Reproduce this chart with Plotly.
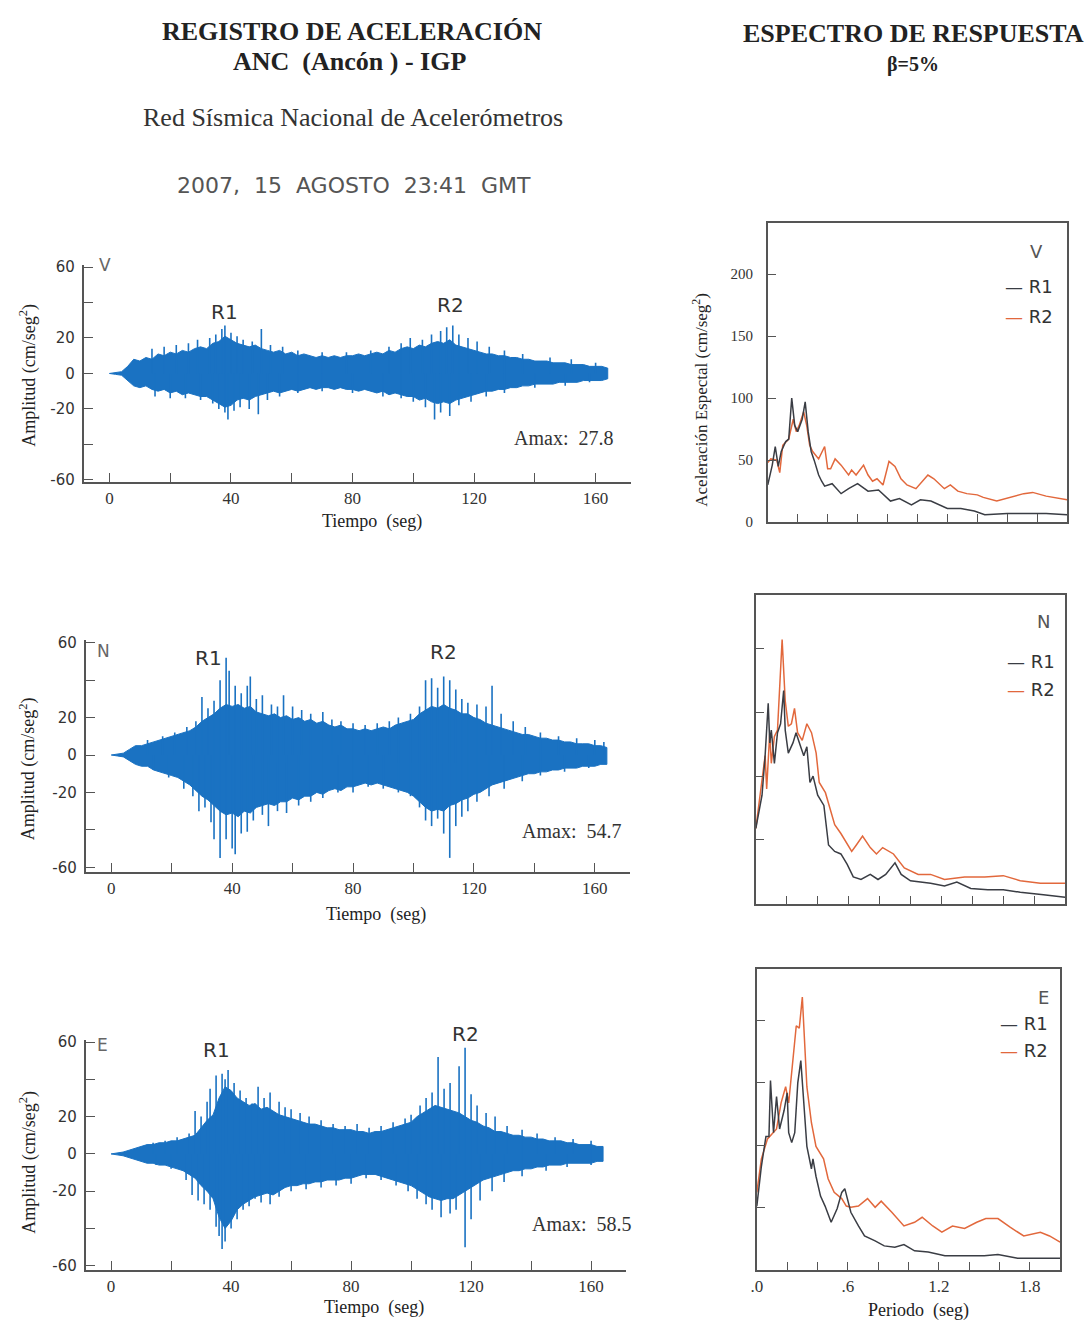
import plotly.graph_objects as go

W, H = 1092, 1331
OFF = 8                      # default page margin around the figure
FW, FH = W - 2 * OFF, H - 2 * OFF

# ---------------- acceleration records (cm/seg2) ----------------
# solid core of each trace, sampled every 2 s
t_env = list(range(0, 166, 2))

v_up = [0, 0.5, 1, 4, 8, 7, 9, 8, 11, 10,
        12, 11, 13, 12, 14, 15, 14, 17, 18, 21,
        19, 17, 16, 15, 16, 14, 13, 12, 13, 11,
        12, 10, 11, 10, 9, 10, 9, 10, 9, 10,
        10, 11, 10, 11, 12, 11, 13, 12, 14, 15,
        14, 16, 15, 17, 18, 17, 19, 16, 15, 14,
        13, 12, 11, 11, 10, 10, 9, 9, 8, 8,
        7, 7, 7, 6, 6, 6, 5, 5, 5, 4,
        4, 4, 3]
v_lo = [0, -0.5, -1, -4, -7, -8, -7, -9, -10, -9,
        -11, -10, -12, -11, -12, -13, -13, -15, -17, -19,
        -18, -15, -14, -15, -13, -12, -11, -10, -11, -10,
        -9, -10, -9, -8, -9, -8, -8, -9, -8, -9,
        -9, -10, -9, -10, -11, -10, -12, -11, -12, -13,
        -13, -15, -14, -16, -17, -16, -17, -15, -14, -13,
        -12, -11, -10, -10, -9, -9, -8, -8, -7, -7,
        -6, -6, -6, -6, -5, -5, -5, -5, -4, -4,
        -4, -4, -3]
n_up = [0, 0.5, 1, 3, 5, 5, 6, 7, 8, 9,
        10, 11, 12, 13, 15, 18, 20, 22, 25, 27,
        26, 27, 25, 26, 23, 22, 21, 22, 20, 21,
        19, 20, 18, 19, 17, 18, 16, 15, 16, 14,
        14, 13, 14, 13, 14, 15, 14, 16, 17, 18,
        19, 22, 24, 26, 25, 27, 25, 24, 22, 22,
        20, 19, 17, 16, 15, 14, 13, 12, 11, 11,
        10, 9, 9, 8, 8, 7, 7, 6, 6, 6,
        5, 5, 4]
n_lo = [0, -0.5, -1, -3, -5, -6, -6, -8, -9, -10,
        -11, -12, -14, -16, -19, -22, -24, -27, -30, -32,
        -31, -33, -30, -31, -28, -27, -26, -27, -25, -25,
        -23, -24, -22, -22, -20, -21, -19, -18, -19, -17,
        -17, -16, -15, -16, -15, -16, -17, -18, -19, -20,
        -22, -25, -28, -30, -29, -30, -27, -26, -24, -23,
        -21, -20, -18, -16, -15, -14, -13, -12, -11, -10,
        -10, -9, -9, -8, -8, -7, -7, -7, -6, -6,
        -6, -5, -5]
e_up = [0, 0.5, 1, 2, 3, 4, 5, 5, 6, 6,
        7, 7, 8, 9, 10, 14, 18, 21, 30, 36,
        34, 30, 28, 26, 27, 24, 25, 23, 21, 20,
        19, 18, 17, 16, 16, 15, 14, 14, 13, 13,
        13, 12, 12, 11, 12, 12, 13, 14, 15, 16,
        17, 20, 22, 24, 26, 25, 24, 23, 22, 20,
        18, 17, 15, 14, 12, 12, 11, 10, 10, 9,
        9, 8, 8, 7, 7, 7, 6, 6, 5, 5,
        5, 4, 4]
e_lo = [0, -0.5, -1, -2, -3, -4, -5, -5, -6, -6,
        -7, -8, -9, -11, -13, -17, -20, -24, -34, -40,
        -36, -30, -27, -25, -23, -22, -21, -22, -20, -18,
        -17, -17, -16, -16, -15, -15, -14, -14, -14, -13,
        -13, -12, -11, -11, -11, -12, -13, -14, -15, -16,
        -17, -19, -21, -23, -24, -25, -24, -24, -22, -20,
        -18, -16, -14, -13, -12, -11, -10, -9, -9, -8,
        -8, -7, -7, -6, -6, -6, -5, -5, -5, -5,
        -5, -4, -4]

# individual spikes sticking out of the core (time s, amplitude)
v_peak_t = [14, 18, 22, 26, 29, 33, 35, 37, 38, 40, 42, 44, 47, 50, 53, 57, 62, 70, 78, 86,
            92, 96, 99, 103, 106, 109, 111, 113, 115, 118, 121, 125, 130, 136, 145, 152, 160]
v_peak_a = [14, 15, 16, 17, 19, 20, 22, 25, 27, 23, 21, 19, 18, 25, 16, 15, 13, 12, 12, 13,
            15, 17, 20, 19, 22, 24, 26, 27, 22, 20, 18, 15, 13, 11, 9, 8, 6]
v_trough_t = [15, 20, 25, 30, 34, 36, 38, 39, 41, 43, 46, 49, 52, 56, 62, 70, 80, 90, 96, 100,
              104, 107, 109, 112, 115, 119, 124, 130, 140, 150, 158]
v_trough_a = [-13, -14, -14, -15, -17, -20, -22, -26, -21, -19, -20, -23, -15, -13, -11, -10, -11, -13, -14, -16,
              -19, -26, -22, -24, -18, -16, -13, -11, -8, -7, -5]

n_peak_t = [12, 17, 21, 25, 28, 30, 32, 34, 36, 38, 39, 41, 43, 45, 46, 48, 50, 53, 55, 57,
            60, 63, 66, 70, 73, 76, 80, 84, 88, 92, 95, 99, 102, 104, 106, 108, 110, 112, 114, 116,
            118, 121, 124, 126, 129, 133, 137, 142, 148, 154, 160, 163]
n_peak_a = [8, 10, 12, 15, 18, 31, 25, 29, 40, 52, 45, 37, 33, 37, 42, 30, 32, 27, 26, 32,
            26, 24, 22, 23, 19, 18, 17, 16, 17, 18, 20, 22, 26, 40, 41, 36, 42, 40, 35, 30,
            28, 27, 26, 37, 22, 18, 15, 12, 10, 9, 8, 7]
n_trough_t = [14, 19, 24, 27, 29, 31, 33, 34, 36, 38, 40, 41, 43, 45, 47, 50, 52, 55, 58, 62,
              66, 70, 75, 80, 85, 90, 95, 99, 102, 104, 106, 108, 110, 112, 114, 116, 118, 121, 125, 130,
              136, 142, 150, 158]
n_trough_a = [-8, -12, -18, -22, -30, -28, -36, -45, -55, -45, -50, -53, -42, -41, -35, -32, -38, -30, -31, -27,
              -25, -23, -20, -20, -17, -18, -20, -22, -28, -35, -38, -34, -42, -55, -38, -33, -30, -25, -22, -18,
              -14, -11, -9, -7]

e_peak_t = [14, 18, 22, 26, 28, 30, 32, 33, 35, 37, 38, 39, 41, 43, 45, 47, 49, 51, 53, 56,
            58, 60, 63, 66, 70, 74, 78, 82, 86, 90, 94, 98, 100, 103, 105, 107, 109, 111, 113, 116,
            118, 120, 122, 125, 128, 132, 137, 142, 148, 154, 160]
e_peak_a = [6, 7, 9, 11, 23, 20, 28, 35, 42, 43, 40, 45, 38, 34, 30, 27, 36, 30, 33, 28,
            25, 24, 22, 20, 18, 16, 15, 16, 14, 15, 17, 19, 21, 26, 30, 33, 52, 35, 38, 47,
            57, 32, 26, 22, 20, 15, 13, 11, 9, 8, 7]
e_trough_t = [15, 20, 25, 27, 29, 31, 33, 35, 36, 37, 38, 40, 42, 44, 46, 48, 50, 53, 56, 60,
              65, 70, 75, 80, 85, 90, 95, 99, 102, 105, 107, 110, 113, 115, 118, 120, 123, 127, 131, 137,
              145, 152, 160]
e_trough_a = [-6, -8, -14, -22, -25, -27, -30, -39, -44, -51, -47, -40, -35, -30, -28, -24, -26, -27, -23, -20,
              -19, -18, -17, -16, -13, -14, -17, -20, -24, -27, -30, -34, -32, -30, -50, -35, -25, -20, -15, -12,
              -9, -7, -6]

amax = [27.8, 54.7, 58.5]
components = ["V", "N", "E"]

# ---------------- response spectra, beta = 5% (period s, cm/seg2) ----------------
v_r1_T = [0, 0.03, 0.05, 0.07, 0.09, 0.12, 0.14, 0.16, 0.18, 0.20, 0.23, 0.25, 0.27, 0.29, 0.31, 0.34,
          0.36, 0.38, 0.43, 0.49, 0.54, 0.60, 0.67, 0.74, 0.82, 0.88, 0.96, 1.02, 1.09, 1.20, 1.29,
          1.38, 1.45, 1.60, 1.73, 1.86, 2.0]
v_r1_A = [30, 46, 61, 45, 57, 65, 67, 100, 78, 73, 83, 97, 73, 57, 50, 38,
          33, 29, 31, 23, 27, 31, 25, 26, 17, 19, 14, 18, 17, 11, 11,
          9, 6, 7, 7, 7, 6]
v_r2_T = [0, 0.02, 0.06, 0.08, 0.10, 0.14, 0.17, 0.19, 0.21, 0.24, 0.26, 0.28, 0.30, 0.34, 0.38, 0.40,
          0.42, 0.45, 0.49, 0.54, 0.56, 0.59, 0.64, 0.67, 0.70, 0.73, 0.77, 0.81, 0.85, 0.89, 0.93,
          0.99, 1.07, 1.11, 1.18, 1.22, 1.27, 1.33, 1.40, 1.44, 1.53, 1.62, 1.71, 1.77, 1.86, 2.0]
v_r2_A = [48, 51, 50, 40, 62, 67, 83, 73, 78, 89, 78, 62, 57, 51, 61, 43,
          43, 51, 46, 38, 42, 38, 46, 38, 33, 35, 30, 49, 45, 35, 30,
          27, 38, 35, 27, 30, 25, 23, 22, 20, 17, 20, 23, 24, 21, 18]

n_r1_T = [0, 0.04, 0.06, 0.08, 0.09, 0.10, 0.12, 0.14, 0.16, 0.18, 0.19, 0.21, 0.24, 0.26, 0.29, 0.31,
          0.33, 0.35, 0.37, 0.40, 0.44, 0.47, 0.51, 0.55, 0.59, 0.63, 0.68, 0.74, 0.79, 0.84, 0.90,
          0.94, 1.00, 1.07, 1.13, 1.22, 1.30, 1.39, 1.50, 1.60, 1.71, 1.86, 2.0]
n_r1_A = [59, 85, 116, 157, 126, 136, 110, 134, 141, 167, 136, 118, 126, 134, 123, 116,
          123, 95, 100, 85, 77, 46, 41, 39, 31, 21, 19, 23, 19, 23, 32,
          23, 18, 17, 16, 14, 17, 12, 11, 11, 9, 7, 5]
n_r2_T = [0, 0.03, 0.06, 0.07, 0.09, 0.10, 0.12, 0.14, 0.17, 0.19, 0.21, 0.23, 0.25, 0.27, 0.30, 0.33,
          0.36, 0.39, 0.41, 0.45, 0.48, 0.51, 0.55, 0.62, 0.65, 0.69, 0.74, 0.78, 0.82, 0.89, 0.96,
          1.05, 1.13, 1.22, 1.35, 1.48, 1.60, 1.71, 1.84, 2.0]
n_r2_A = [59, 90, 116, 90, 134, 110, 131, 136, 207, 159, 139, 141, 153, 134, 128, 141,
          134, 118, 95, 87, 75, 62, 55, 41, 46, 53, 44, 39, 44, 39, 28,
          23, 23, 19, 21, 21, 22, 18, 16, 16]

e_r1_T = [0, 0.03, 0.06, 0.08, 0.09, 0.11, 0.13, 0.15, 0.18, 0.20, 0.21, 0.23, 0.25, 0.27, 0.29, 0.31,
          0.33, 0.36, 0.37, 0.39, 0.42, 0.45, 0.49, 0.53, 0.56, 0.58, 0.62, 0.67, 0.71, 0.78, 0.84,
          0.91, 0.97, 1.04, 1.13, 1.24, 1.37, 1.50, 1.59, 1.72, 1.85, 2.0]
e_r1_A = [51, 83, 107, 107, 152, 110, 139, 113, 128, 142, 110, 102, 110, 150, 168, 136,
          99, 81, 89, 75, 59, 51, 38, 49, 62, 65, 46, 35, 27, 23, 19,
          18, 20, 15, 14, 11, 11, 11, 12, 9, 9, 9]
e_r2_T = [0, 0.03, 0.07, 0.10, 0.13, 0.16, 0.19, 0.21, 0.24, 0.26, 0.28, 0.30, 0.31, 0.33, 0.36, 0.39,
          0.44, 0.47, 0.51, 0.56, 0.59, 0.62, 0.67, 0.73, 0.78, 0.82, 0.89, 0.97, 1.04, 1.09, 1.16,
          1.22, 1.29, 1.37, 1.45, 1.51, 1.59, 1.67, 1.76, 1.87, 1.93, 2.0]
e_r2_A = [62, 89, 105, 109, 113, 134, 147, 134, 168, 196, 194, 219, 195, 147, 118, 99,
          89, 73, 62, 57, 51, 50, 51, 57, 50, 55, 46, 35, 38, 42, 35,
          30, 35, 33, 38, 41, 41, 34, 27, 30, 27, 22]

period_ticks = [0, 0.2, 0.4, 0.6, 0.8, 1.0, 1.2, 1.4, 1.6, 1.8, 2.0]
period_text = [".0", "", "", ".6", "", "", "1.2", "", "", "1.8", ""]
amp_ticks = [-60, -40, -20, 0, 20, 40, 60]
amp_text = ["-60", "", "-20", "0", "20", "", "60"]
time_ticks = [0, 20, 40, 60, 80, 100, 120, 140, 160]
time_text = ["0", "", "40", "", "80", "", "120", "", "160"]

# ---------------- styling ----------------
BLUE = "#1a72c2"
C_R1 = "#3a3d44"
C_R2 = "#e2683c"
AX = "#555555"
SERIF = "Liberation Serif"
SANS = "DejaVu Sans"


# page pixel -> paper coordinate
def px(x):
    return (x - OFF) / FW


def py(y):
    return 1 - (y - OFF) / FH


records = [
    (v_up, v_lo, v_peak_t, v_peak_a, v_trough_t, v_trough_a),
    (n_up, n_lo, n_peak_t, n_peak_a, n_trough_t, n_trough_a),
    (e_up, e_lo, e_peak_t, e_peak_a, e_trough_t, e_trough_a),
]
spectra = [
    (v_r1_T, v_r1_A, v_r2_T, v_r2_A),
    (n_r1_T, n_r1_A, n_r2_T, n_r2_A),
    (e_r1_T, e_r1_A, e_r2_T, e_r2_A),
]

# pixel boxes: (x0, x1, y0, y1) and y-range
rec_box = [(78, 628, 261, 480, [-61, 61.1]),
           (80, 627, 640, 875, [-62.6, 61.6]),
           (80, 623, 1045, 1277, [-62, 61])]
spec_box = [(766, 1067, 218, 521),
            (754, 1065, 595, 907),
            (755, 1060, 973, 1277)]

fig = go.Figure()
layout_axes = {}

for i, (up, lo, pk_t, pk_a, tr_t, tr_a) in enumerate(records):
    n = i + 1
    xa, ya = ("x", "y") if n == 1 else (f"x{n}", f"y{n}")
    # solid body of the record
    fig.add_trace(go.Scatter(
        x=t_env + t_env[::-1], y=up + lo[::-1], fill="toself", fillcolor=BLUE,
        mode="lines", line=dict(color=BLUE, width=1), xaxis=xa, yaxis=ya,
        showlegend=False, hoverinfo="skip"))
    # spikes
    xs, ys = [], []
    for t, a in list(zip(pk_t, pk_a)) + list(zip(tr_t, tr_a)):
        xs += [t, t, None]
        ys += [0, a, None]
    fig.add_trace(go.Scatter(
        x=xs, y=ys, mode="lines", line=dict(color=BLUE, width=1.6),
        xaxis=xa, yaxis=ya, showlegend=False, hoverinfo="skip"))

    x0, x1, y0, y1, yr = rec_box[i]
    layout_axes["xaxis" if n == 1 else f"xaxis{n}"] = dict(
        domain=[px(x0), px(x1)], range=[-8.5, 171.5], anchor=ya,
        showgrid=False, zeroline=False, showline=True, linecolor=AX, linewidth=1.5,
        ticks="inside", ticklen=9, tickwidth=1.3, tickcolor=AX,
        tickvals=time_ticks, ticktext=time_text,
        tickfont=dict(family=SERIF, size=17, color="#333"))
    layout_axes["yaxis" if n == 1 else f"yaxis{n}"] = dict(
        domain=[py(y1), py(y0)], range=yr, anchor=xa,
        showgrid=False, zeroline=False, showline=True, linecolor=AX, linewidth=1.5,
        ticks="inside", ticklen=10, tickwidth=1.3, tickcolor=AX,
        tickvals=amp_ticks, ticktext=amp_text, ticklabelstandoff=4,
        tickfont=dict(family=SANS, size=15, color="#333"))

for i, (t1, a1, t2, a2) in enumerate(spectra):
    n = i + 4
    xa, ya = f"x{n}", f"y{n}"
    fig.add_trace(go.Scatter(x=t2, y=a2, mode="lines", line=dict(color=C_R2, width=1.5),
                             xaxis=xa, yaxis=ya, showlegend=False, name="R2"))
    fig.add_trace(go.Scatter(x=t1, y=a1, mode="lines", line=dict(color=C_R1, width=1.5),
                             xaxis=xa, yaxis=ya, showlegend=False, name="R1"))
    x0, x1, y0, y1 = spec_box[i]
    layout_axes[f"xaxis{n}"] = dict(
        domain=[px(x0), px(x1)], range=[0, 2.0], anchor=ya,
        showgrid=False, zeroline=False, showline=True, mirror=True, linecolor=AX, linewidth=1.5,
        ticks="inside", ticklen=8, tickwidth=1.3, tickcolor=AX,
        tickvals=period_ticks, ticktext=period_text, showticklabels=(i == 2),
        tickfont=dict(family=SERIF, size=17, color="#333"))
    layout_axes[f"yaxis{n}"] = dict(
        domain=[py(y1), py(y0)], range=[0, 241.6], anchor=xa,
        showgrid=False, zeroline=False, showline=True, mirror=True, linecolor=AX, linewidth=1.5,
        ticks="inside", ticklen=8, tickwidth=1.3, tickcolor=AX,
        tickvals=[0, 50, 100, 150, 200], showticklabels=(i == 0), ticklabelstandoff=10,
        tickfont=dict(family=SERIF, size=15, color="#333"))

fig.update_layout(**layout_axes)

# ---------------- text ----------------
ann = []


def text(x, y, s, size, family=SERIF, color="#222", xanchor="center", angle=0):
    ann.append(dict(x=px(x), y=py(y), xref="paper", yref="paper", text=s, showarrow=False,
                    xanchor=xanchor, yanchor="middle", textangle=angle,
                    font=dict(family=family, size=size, color=color)))


text(348, 25, "<b>REGISTRO DE ACELERACIÓN</b>", 26)
text(345, 55, "<b>ANC  (Ancón ) - IGP</b>", 26)
text(349, 112, "Red Sísmica Nacional de Acelerómetros", 26, color="#333")
text(350, 180, "2007,  15  AGOSTO  23:41  GMT", 22, family=SANS, color="#555")
text(913, 27, "<b>ESPECTRO DE RESPUESTA</b>", 26)
text(912, 58, "<b>β=5%</b>", 20)

r_lbl = [((220, 308), (447, 301)), ((204, 658), (440, 652)), ((212, 1055), (462, 1039))]
comp_pos = [(100, 261), (98, 651), (97, 1050)]
amax_pos = [(612, 436), (620, 833), (630, 1231)]
tiempo_pos = [(368, 520), (372, 918), (370, 1315)]
amp_title_y = [372, 770, 1168]
for i, comp in enumerate(components):
    (a, b), (c, d) = r_lbl[i]
    text(a, b, "R1", 20, family=SANS, color="#333")
    text(c, d, "R2", 20, family=SANS, color="#333")
    text(*comp_pos[i], comp, 17, family=SANS, color="#666")
    text(*amax_pos[i], f"Amax:  {amax[i]}", 20, color="#333", xanchor="right")
    text(*tiempo_pos[i], "Tiempo  (seg)", 18, color="#222")
    text(22, amp_title_y[i], "Amplitud (cm/seg<sup>2</sup>)", 18, color="#222", angle=-90)

leg_letter = [(1036, 247), (1043, 621), (1043, 1002)]
leg_r1 = [(1003, 283), (1005, 662), (998, 1028)]
leg_r2 = [(1003, 313), (1005, 690), (998, 1055)]
for i, comp in enumerate(components):
    text(*leg_letter[i], comp, 18, family=SANS, color="#555")
    text(*leg_r1[i], f"<span style='color:{C_R1}'>—</span> R1", 18, family=SANS,
         color="#333", xanchor="left")
    text(*leg_r2[i], f"<span style='color:{C_R2}'>—</span> R2", 18, family=SANS,
         color="#333", xanchor="left")

text(697, 397, "Aceleración Espectal (cm/seg<sup>2</sup>)", 17, color="#222", angle=-90)
text(918, 1318, "Periodo  (seg)", 18, color="#222")

fig.update_layout(
    width=FW, height=FH, margin=dict(l=0, r=0, t=0, b=0),
    paper_bgcolor="white", plot_bgcolor="white",
    showlegend=False, annotations=ann,
)

fig.write_html("out.html")
